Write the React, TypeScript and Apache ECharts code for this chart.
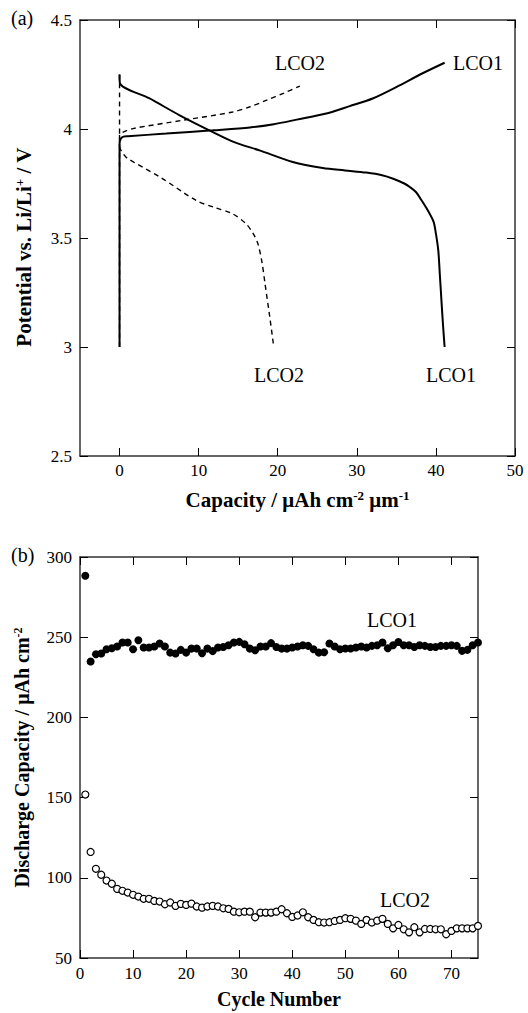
import React, { useEffect, useRef } from "react";
import * as echarts from "echarts";

// ---------- (a) charge / discharge curves: [capacity, potential] ----------
const lco1Charge: number[][] = [
  [0, 3.0], [0, 3.93], [0.15, 3.955], [0.5, 3.965], [1.05, 3.967], [5.9, 3.979],
  [11.8, 3.994], [16.5, 4.007], [19.5, 4.022], [22.4, 4.043], [26.0, 4.07],
  [29.1, 4.105], [32.0, 4.14], [35.4, 4.2], [38.0, 4.25], [41.1, 4.304],
];
const lco1Discharge: number[][] = [
  [0, 4.25], [0.05, 4.21], [3.8, 4.14], [7.6, 4.063], [11.8, 3.986], [14.5, 3.94],
  [17.7, 3.902], [21.9, 3.849], [25.7, 3.821], [28.5, 3.81], [31.2, 3.8], [33.2, 3.788],
  [34.6, 3.772], [36.0, 3.75], [36.7, 3.734], [37.5, 3.71], [38.2, 3.672], [39.0, 3.625],
  [39.7, 3.575], [40.0, 3.52], [40.3, 3.443], [40.5, 3.33], [40.7, 3.213], [40.9, 3.1],
  [41.1, 3.0],
];
const lco2Charge: number[][] = [
  [0, 3.0], [0, 3.97], [0.4, 3.985], [1.7, 4.002], [8.0, 4.04], [14.3, 4.078],
  [16.5, 4.102], [18.6, 4.132], [20.8, 4.165], [22.8, 4.197],
];
const lco2Discharge: number[][] = [
  [0, 4.25], [0, 3.92], [0.5, 3.885], [1.05, 3.864], [5.1, 3.78], [9.7, 3.672],
  [12.0, 3.64], [14.3, 3.611], [16.0, 3.565], [16.9, 3.52], [17.5, 3.473],
  [18.0, 3.39], [18.4, 3.289], [19.0, 3.136], [19.5, 3.0],
];

// ---------- (b) discharge capacity per cycle ----------
const lco1Cycle: number[] = [
  288.3, 234.8, 239.4, 239.8, 242.5, 243.1, 244.2, 246.7, 246.7, 242.5,
  248.1, 243.6, 243.6, 244.2, 246.1, 244.2, 240.4, 239.8, 242.1, 240.4,
  242.9, 242.9, 240.0, 242.9, 241.3, 243.6, 243.9, 245.0, 246.7, 247.1,
  245.6, 242.9, 241.9, 244.2, 244.2, 246.3, 243.9, 242.9, 242.9, 243.6,
  244.2, 245.0, 244.6, 242.5, 240.4, 240.6, 246.1, 244.2, 242.5, 243.0,
  243.0, 243.6, 244.2, 243.6, 244.6, 245.0, 246.7, 243.1, 245.0, 247.0,
  245.0, 245.0, 243.9, 245.0, 244.6, 243.9, 243.9, 244.6, 244.6, 245.0,
  244.6, 241.5, 242.1, 245.0, 246.7,
];
const lco2Cycle: number[] = [
  151.9, 116.1, 105.6, 101.9, 98.3, 96.3, 93.1, 91.9, 90.8, 89.4,
  88.3, 86.9, 86.9, 85.6, 85.2, 83.5, 84.6, 82.5, 83.75, 83.1,
  83.9, 82.1, 81.4, 82.1, 82.5, 82.1, 81.0, 80.6, 78.9, 78.5,
  78.9, 78.9, 75.4, 78.3, 78.3, 78.3, 78.9, 80.4, 77.9, 75.6,
  76.5, 78.5, 75.4, 73.75, 72.3, 72.1, 72.3, 73.1, 73.75, 74.8,
  74.4, 73.3, 71.25, 73.75, 72.1, 73.3, 74.4, 71.25, 68.5, 70.6,
  67.9, 66.0, 69.2, 66.0, 68.1, 68.1, 67.9, 67.9, 64.8, 66.9,
  68.5, 68.5, 68.5, 68.5, 70.0,
];

// ---------- axis ticks ----------
const capTicks = [0, 10, 20, 30, 40, 50];
const cycleTicks = [0, 10, 20, 30, 40, 50, 60, 70];

const SERIF = "'Liberation Serif', 'Times New Roman', serif";

function nameStyle(size: number, padding?: number[]) {
  const s: any = {
    fontFamily: SERIF,
    fontWeight: "bold",
    fontSize: size,
    color: "#000",
    rich: {
      sup: {
        fontSize: Math.round(size * 0.6),
        fontWeight: "bold",
        fontFamily: SERIF,
        color: "#000",
        verticalAlign: "top",
      },
    },
  };
  if (padding) s.padding = padding;
  return s;
}

function baseAxis(extra: any) {
  return {
    type: "value",
    splitLine: { show: false },
    axisLine: { show: true, onZero: false, lineStyle: { color: "#333", width: 1.5 } },
    axisTick: { show: true, inside: true, length: 8, lineStyle: { color: "#000", width: 1 } },
    axisLabel: { fontFamily: SERIF, fontSize: 17, color: "#000" },
    ...extra,
  };
}

const labelFont = `20px ${SERIF}`;

function curve(name: string, data: number[][], width: number, dashed: boolean) {
  return {
    name,
    type: "line",
    xAxisIndex: 0,
    yAxisIndex: 0,
    data,
    showSymbol: false,
    symbol: "none",
    smooth: 0.3,
    lineStyle: { color: "#000", width, type: dashed ? [5, 4] : "solid" },
  };
}

export default function App() {
  const ref = useRef<HTMLDivElement>(null);

  useEffect(() => {
    if (!ref.current) return;
    const chart = echarts.init(ref.current, undefined, { renderer: "svg" });

    const option: any = {
      animation: false,
      backgroundColor: "#fff",
      grid: [
        { left: 80, top: 20, width: 435, height: 436, outerBoundsMode: "none" },
        { left: 80, top: 557, width: 398, height: 401, outerBoundsMode: "none" },
      ],
      xAxis: [
        baseAxis({
          gridIndex: 0,
          position: "bottom",
          min: -5,
          max: 50,
          axisTick: { show: true, inside: true, length: 8, customValues: capTicks, lineStyle: { color: "#000" } },
          axisLabel: { fontFamily: SERIF, fontSize: 17, color: "#000", margin: 6, customValues: capTicks },
          name: "Capacity / μAh cm{sup|-2} μm{sup|-1}",
          nameLocation: "middle",
          nameGap: 33,
          nameTextStyle: nameStyle(21),
        }),
        baseAxis({
          gridIndex: 0,
          position: "top",
          min: -5,
          max: 50,
          axisTick: { show: true, inside: true, length: 8, customValues: capTicks, lineStyle: { color: "#000" } },
          axisLabel: { show: false, customValues: capTicks },
        }),
        baseAxis({
          gridIndex: 1,
          position: "bottom",
          min: 0,
          max: 75,
          axisTick: { show: true, inside: true, length: 8, customValues: cycleTicks, lineStyle: { color: "#000" } },
          axisLabel: { fontFamily: SERIF, fontSize: 17, color: "#000", margin: 7, customValues: cycleTicks },
          name: "Cycle Number",
          nameLocation: "middle",
          nameGap: 31,
          nameTextStyle: nameStyle(20),
        }),
        baseAxis({
          gridIndex: 1,
          position: "top",
          min: 0,
          max: 75,
          axisTick: { show: true, inside: true, length: 8, customValues: cycleTicks, lineStyle: { color: "#000" } },
          axisLabel: { show: false, customValues: cycleTicks },
        }),
      ],
      yAxis: [
        baseAxis({
          gridIndex: 0,
          position: "left",
          min: 2.5,
          max: 4.5,
          interval: 0.5,
          axisLabel: { fontFamily: SERIF, fontSize: 17, color: "#000", margin: 8 },
          name: "Potential vs. Li/Li{sup|+} / V",
          nameLocation: "middle",
          nameGap: 46,
          nameRotate: 90,
          nameTextStyle: nameStyle(21, [0, 18, 0, 0]),
        }),
        baseAxis({
          gridIndex: 0,
          position: "right",
          min: 2.5,
          max: 4.5,
          interval: 0.5,
          axisLabel: { show: false },
        }),
        baseAxis({
          gridIndex: 1,
          position: "left",
          min: 50,
          max: 300,
          interval: 50,
          axisLabel: { fontFamily: SERIF, fontSize: 17, color: "#000", margin: 8 },
          name: "Discharge Capacity / μAh cm{sup|-2}",
          nameLocation: "middle",
          nameGap: 48,
          nameRotate: 90,
          nameTextStyle: nameStyle(20),
        }),
        baseAxis({
          gridIndex: 1,
          position: "right",
          min: 50,
          max: 300,
          interval: 50,
          axisLabel: { show: false },
        }),
      ],
      series: [
        curve("LCO2 charge", lco2Charge, 1.4, true),
        curve("LCO2 discharge", lco2Discharge, 1.4, true),
        curve("LCO1 charge", lco1Charge, 2, false),
        curve("LCO1 discharge", lco1Discharge, 2, false),
        {
          name: "LCO1",
          type: "scatter",
          xAxisIndex: 2,
          yAxisIndex: 2,
          data: lco1Cycle.map((v, i) => [i + 1, v]),
          symbol: "circle",
          symbolSize: 8,
          itemStyle: { color: "#000", opacity: 1 },
        },
        {
          name: "LCO2",
          type: "scatter",
          xAxisIndex: 2,
          yAxisIndex: 2,
          data: lco2Cycle.map((v, i) => [i + 1, v]),
          symbol: "circle",
          symbolSize: 7,
          itemStyle: { color: "#fff", borderColor: "#000", borderWidth: 1.2, opacity: 1 },
        },
      ],
      graphic: [
        { type: "text", left: 11, top: 8, style: { text: "(a)", font: labelFont, fill: "#000" } },
        { type: "text", left: 11, top: 545, style: { text: "(b)", font: labelFont, fill: "#000" } },
        { type: "text", x: 300, y: 63, style: { text: "LCO2", font: labelFont, fill: "#000", align: "center", verticalAlign: "middle" } },
        { type: "text", x: 478, y: 63, style: { text: "LCO1", font: labelFont, fill: "#000", align: "center", verticalAlign: "middle" } },
        { type: "text", x: 279, y: 375, style: { text: "LCO2", font: labelFont, fill: "#000", align: "center", verticalAlign: "middle" } },
        { type: "text", x: 451, y: 375, style: { text: "LCO1", font: labelFont, fill: "#000", align: "center", verticalAlign: "middle" } },
        { type: "text", x: 392, y: 620, style: { text: "LCO1", font: labelFont, fill: "#000", align: "center", verticalAlign: "middle" } },
        { type: "text", x: 405, y: 900, style: { text: "LCO2", font: labelFont, fill: "#000", align: "center", verticalAlign: "middle" } },
      ],
    };

    chart.setOption(option);
    return () => {
      chart.dispose();
    };
  }, []);

  return (
    <div
      ref={ref}
      style={{ position: "fixed", left: 0, top: 0, width: 528, height: 1013, background: "#fff" }}
    />
  );
}
